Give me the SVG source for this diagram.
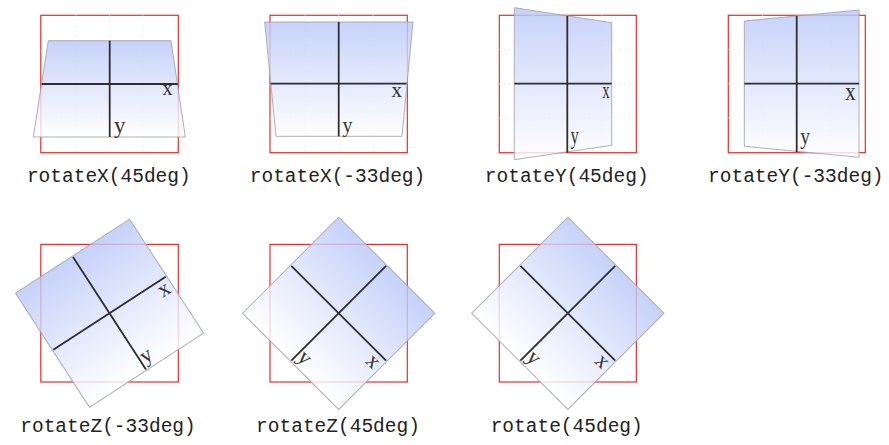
<svg xmlns="http://www.w3.org/2000/svg" width="889" height="445" viewBox="0 0 889 445">
<style>
.frame{fill:none;stroke:#f02a2a;stroke-width:1.2}
.grid{fill:none;stroke:#dedede;stroke-width:1;stroke-dasharray:1 4}
.plane{fill:url(#g);fill-opacity:0.82;stroke:#a4a6ae;stroke-width:1;stroke-opacity:0.9}
.axis{stroke:#2e2e2e;stroke-width:1.8;fill:none}
.ax{font-family:"Liberation Serif","Times New Roman",serif;fill:#333}
.cap{font-family:"Liberation Mono","Courier New",monospace;font-size:19.5px;fill:#222;text-anchor:middle}
</style>
<defs>
<linearGradient id="g" x1="0" y1="0" x2="0" y2="1">
<stop offset="0" stop-color="#bac8f8"/>
<stop offset="1" stop-color="#ffffff"/>
</linearGradient>
</defs>
<rect width="889" height="445" fill="#fff"/>

<g id="rotateX45">
<rect class="frame" x="40.8" y="15.3" width="137.5" height="137.4"/>
<path class="grid" d="M76 15.3V152.7M109.7 15.3V152.7M143 15.3V152.7M40.8 50H178.3M40.8 118H178.3"/>
<polygon class="plane" points="48.3,40.7 171,40.7 185.3,137 33.3,137"/>
<line class="axis" x1="41.7" y1="84" x2="177.7" y2="84"/>
<line class="axis" x1="109.7" y1="40.7" x2="109.7" y2="137"/>
<text class="ax" x="162.5" y="94.5" font-size="20">x</text>
<text class="ax" x="114" y="132.5" font-size="23">y</text>
<text class="cap" x="108.8" y="182">rotateX(45deg)</text>
</g>

<g id="rotateX-33">
<rect class="frame" x="270" y="15.3" width="137.3" height="137.4"/>
<path class="grid" d="M305 15.3V152.7M338.7 15.3V152.7M373 15.3V152.7M270 50H407.3M270 118H407.3"/>
<polygon class="plane" points="264.7,22 413,22 402,136.3 276,136.3"/>
<line class="axis" x1="270.7" y1="83.7" x2="406.7" y2="83.7"/>
<line class="axis" x1="338.7" y1="22" x2="338.7" y2="136.3"/>
<text class="ax" x="391.5" y="96.7" font-size="21">x</text>
<text class="ax" x="342.5" y="131.5" font-size="20">y</text>
<text class="cap" x="337.5" y="182">rotateX(-33deg)</text>
</g>

<g id="rotateY45">
<rect class="frame" x="499.3" y="15.3" width="137" height="137.4"/>
<path class="grid" d="M533.5 15.3V152.7M567.3 15.3V152.7M602 15.3V152.7M499.3 49.5H636.3M499.3 83.7H636.3M499.3 118H636.3"/>
<polygon class="plane" points="514.3,7.7 611.7,22.7 611.7,145.3 514.3,159.7"/>
<line class="axis" x1="514.3" y1="83.7" x2="611.7" y2="83.7"/>
<line class="axis" x1="567.3" y1="15.8" x2="567.3" y2="152.7"/>
<text class="ax" font-size="24" transform="translate(602.3,98.3) scale(0.62,1)">x</text>
<text class="ax" font-size="25" transform="translate(570.5,144) scale(0.66,1)">y</text>
<text class="cap" x="566.7" y="182">rotateY(45deg)</text>
</g>

<g id="rotateY-33">
<rect class="frame" x="728.3" y="15.3" width="137" height="137.4"/>
<path class="grid" d="M762.5 15.3V152.7M796.7 15.3V152.7M831 15.3V152.7M728.3 49.5H865.3M728.3 83.7H865.3M728.3 118H865.3"/>
<polygon class="plane" points="744.3,21 859,10 859,157.3 744.3,146.3"/>
<line class="axis" x1="744.3" y1="83.7" x2="859" y2="83.7"/>
<line class="axis" x1="796.7" y1="15.8" x2="796.7" y2="152.2"/>
<text class="ax" font-size="25" transform="translate(845.3,100) scale(0.84,1)">x</text>
<text class="ax" font-size="23" transform="translate(800.3,143.5) scale(0.85,1)">y</text>
<text class="cap" x="795.8" y="182">rotateY(-33deg)</text>
</g>

<g id="rotateZ-33">
<rect class="frame" x="40.8" y="244.4" width="137.5" height="137.6"/>
<g transform="translate(109.5,313.2) rotate(-33)">
<rect class="plane" x="-68" y="-68" width="136" height="136"/>
<line class="axis" x1="-67" y1="0" x2="67" y2="0"/>
<line class="axis" x1="0" y1="-67" x2="0" y2="67"/>
<text class="ax" x="53" y="16" font-size="22">x</text>
<text class="ax" x="2" y="62" font-size="22">y</text>
</g>
<text class="cap" x="108" y="431.5">rotateZ(-33deg)</text>
</g>

<g id="rotateZ45">
<rect class="frame" x="270" y="244.4" width="137.3" height="137.6"/>
<g transform="translate(338.7,313.3) rotate(45)">
<rect class="plane" x="-68" y="-68" width="136" height="136"/>
<line class="axis" x1="-67" y1="0" x2="67" y2="0"/>
<line class="axis" x1="0" y1="-67" x2="0" y2="67"/>
<text class="ax" x="53" y="16" font-size="22">x</text>
<text class="ax" x="2" y="62" font-size="22">y</text>
</g>
<text class="cap" x="338" y="431.5">rotateZ(45deg)</text>
</g>

<g id="rotate45">
<rect class="frame" x="499.3" y="244.4" width="137" height="137.6"/>
<g transform="translate(567.8,313.3) rotate(45)">
<rect class="plane" x="-68" y="-68" width="136" height="136"/>
<line class="axis" x1="-67" y1="0" x2="67" y2="0"/>
<line class="axis" x1="0" y1="-67" x2="0" y2="67"/>
<text class="ax" x="53" y="16" font-size="22">x</text>
<text class="ax" x="2" y="62" font-size="22">y</text>
</g>
<text class="cap" x="566.7" y="431.5">rotate(45deg)</text>
</g>
</svg>
